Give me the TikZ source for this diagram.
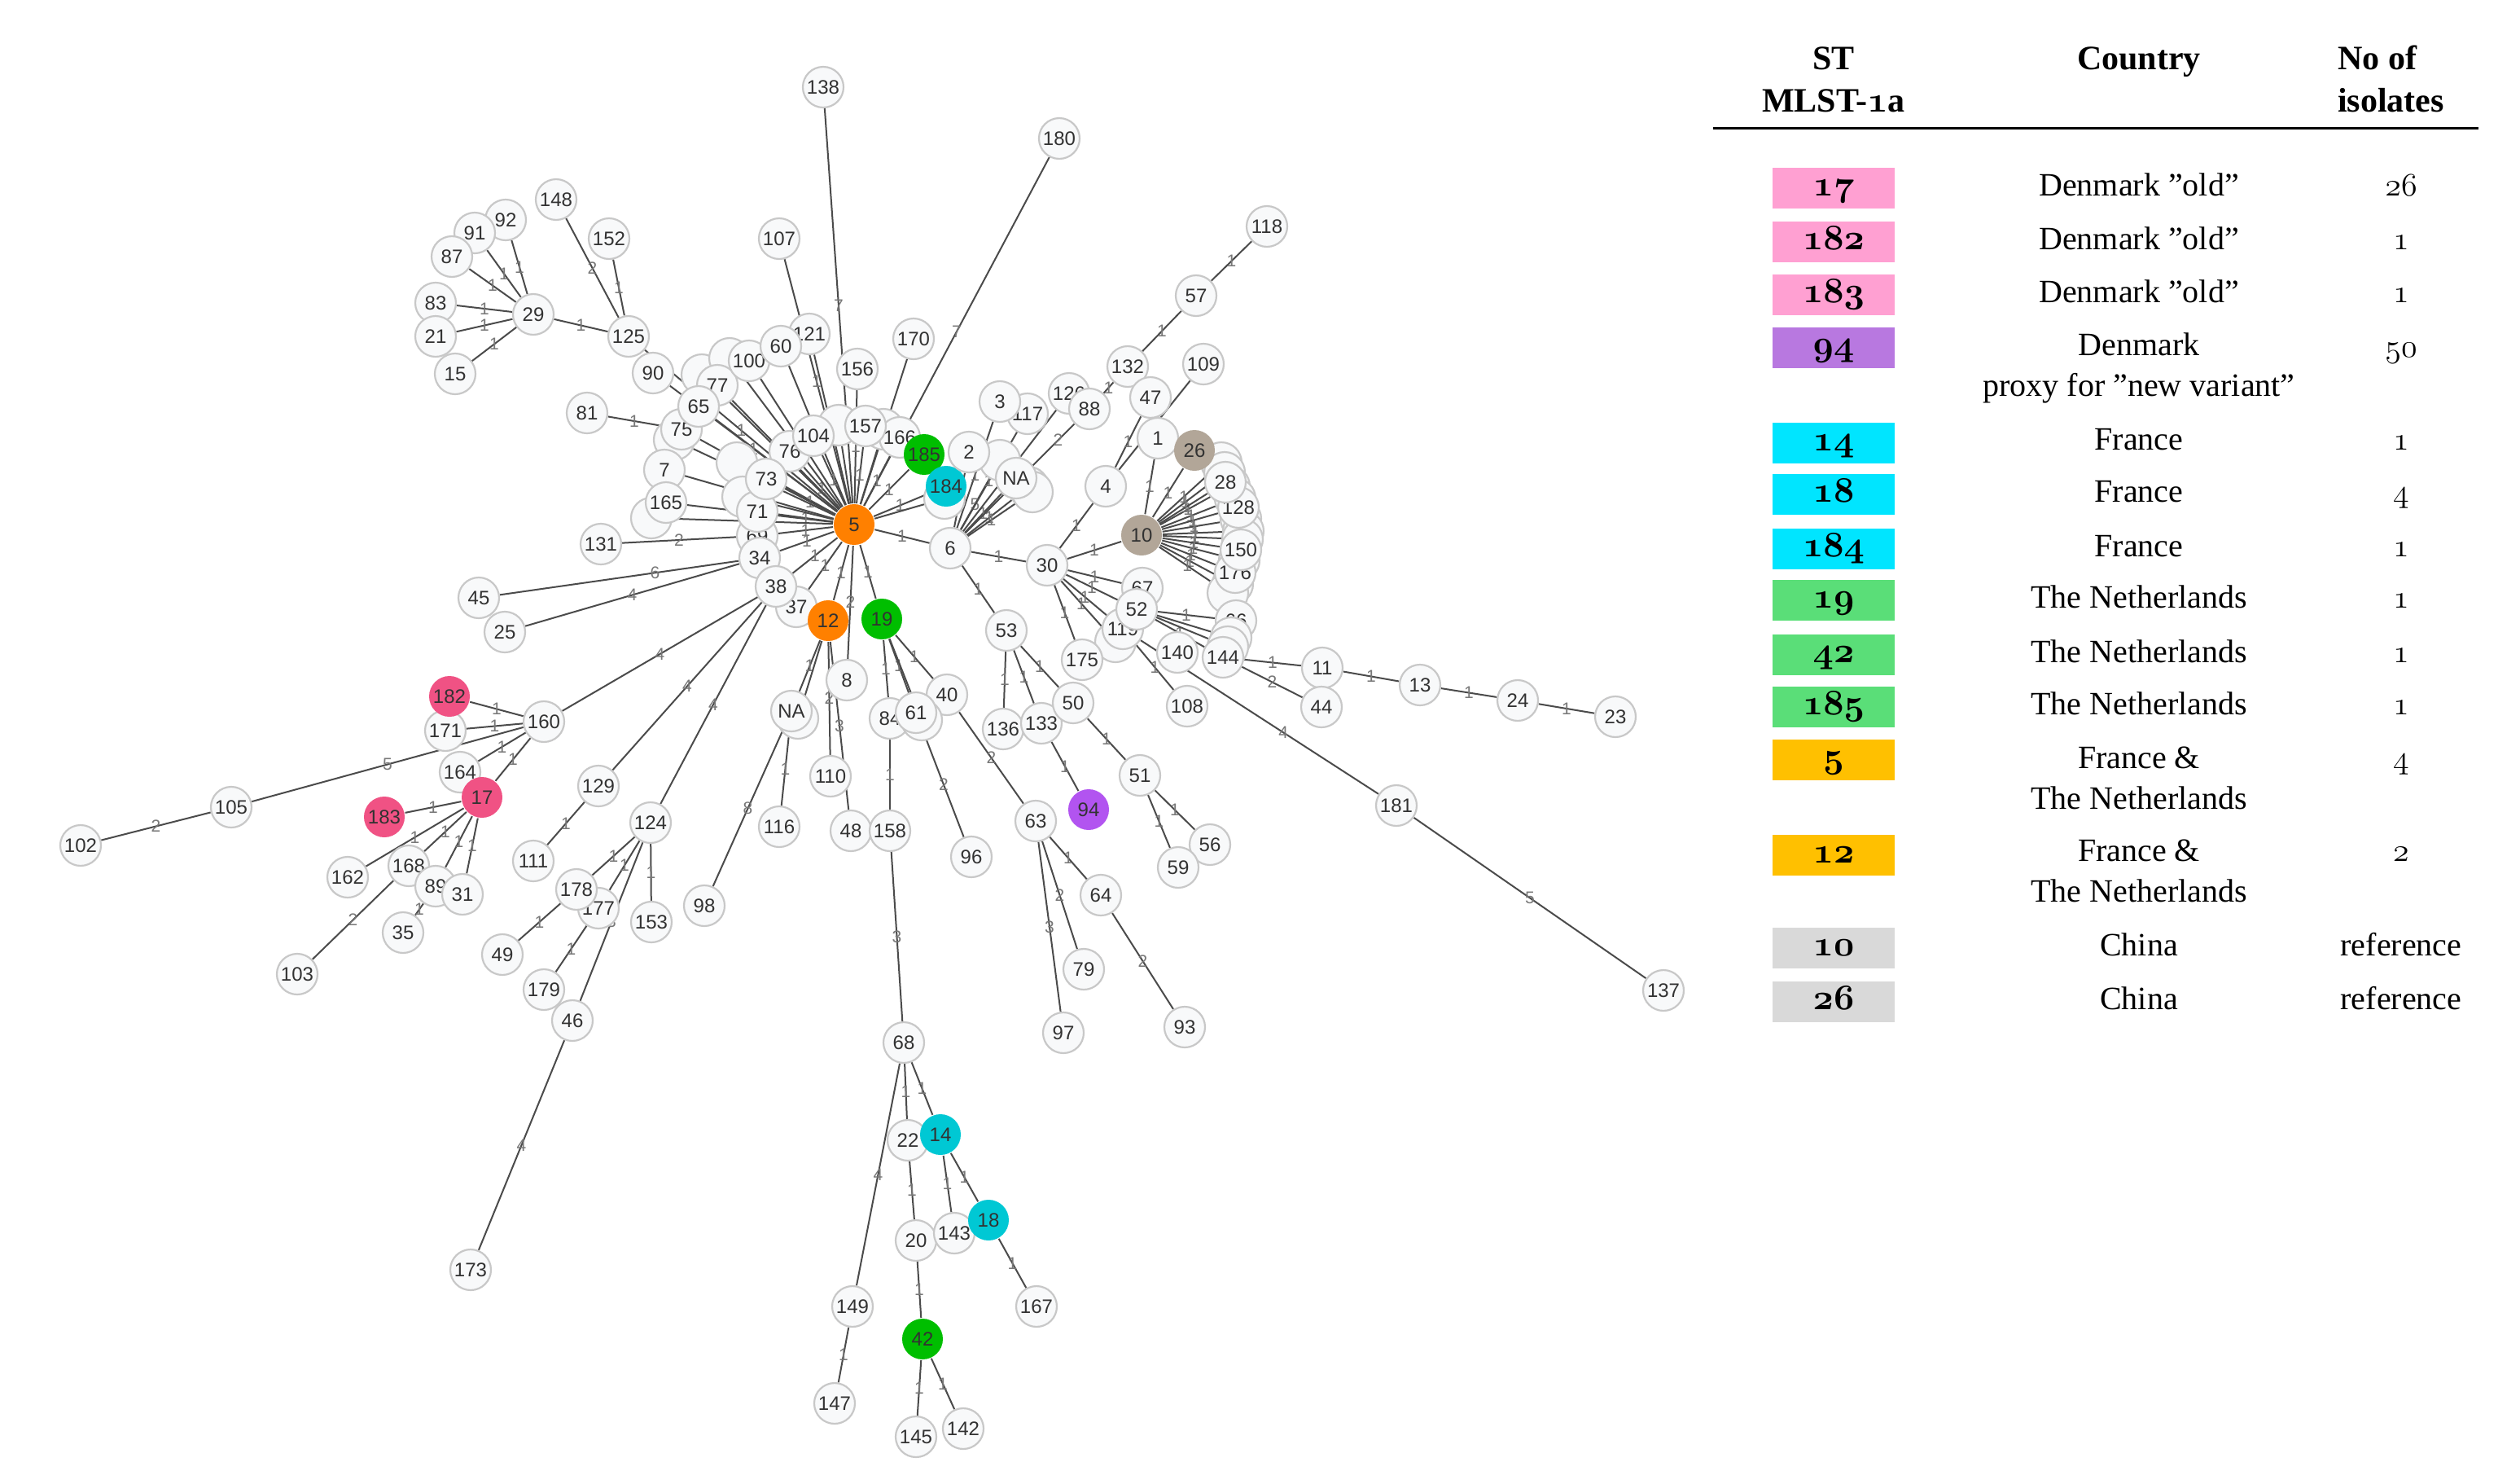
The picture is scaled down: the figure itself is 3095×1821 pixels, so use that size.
\documentclass[tikz,border=0pt]{standalone}
\usepackage{fontspec}
\setmainfont{Liberation Serif}
\newfontfamily\netfont{Liberation Sans}
\font\osf=cmmi12 at 40pt
\font\osfb=cmmib10 at 44pt
\newcommand\nfont{\netfont\fontsize{24}{27}\selectfont}
\newcommand\lbfont{\netfont\fontsize{21}{23}\selectfont}
\definecolor{ndline}{RGB}{200,200,200}
\definecolor{ndfill}{RGB}{248,249,250}
\definecolor{ndtext}{RGB}{50,50,50}
\definecolor{edgecol}{RGB}{75,75,75}
\definecolor{labcol}{RGB}{120,120,120}
\definecolor{corange}{RGB}{255,128,0}
\definecolor{cgreen}{RGB}{0,190,0}
\definecolor{ccyan}{RGB}{0,200,212}
\definecolor{cpink}{RGB}{240,82,132}
\definecolor{cpurple}{RGB}{178,84,240}
\definecolor{ctaupe}{RGB}{178,166,152}
\definecolor{lpink}{RGB}{255,160,210}
\definecolor{lpurple}{RGB}{184,120,224}
\definecolor{lcyan}{RGB}{0,229,255}
\definecolor{lgreen}{RGB}{90,222,120}
\definecolor{lamber}{RGB}{255,192,0}
\definecolor{lgray}{RGB}{217,217,217}
\pgfdeclarelayer{bg}
\pgfsetlayers{bg,main}
\tikzset{
  nd/.style={circle, draw=ndline, line width=2.2pt, fill=ndfill, minimum size=50pt, inner sep=0pt, font=\nfont, text=ndtext},
  cn/.style={nd, draw=none, fill=#1},
  ed/.style={draw=edgecol, line width=2pt},
  el/.style={font=\lbfont, text=labcol, inner sep=0pt},
  lbox/.style={rectangle, minimum width=150pt, minimum height=50pt, inner sep=0pt, font=\osfb, text height=24pt, text depth=6pt},
  lhead/.style={font=\bfseries\fontsize{42}{48}\selectfont, inner sep=0pt},
  ltxt/.style={font=\fontsize{40}{46}\selectfont, inner sep=0pt},
}
\newcommand\edg[4][0.5]{\draw[ed] (#2) -- node[el,pos=#1]{#4} (#3);}
\begin{document}
\begin{tikzpicture}[x=1pt,y=-1pt]
\useasboundingbox (0,0) rectangle (3095,1821);
% ---------- top-left ----------
\node[nd] (n148) at (683,245) {148};
\node[nd] (n152) at (748,293) {152};
\node[nd] (n92) at (621,270) {92};
\node[nd] (n91) at (583,286) {91};
\node[nd] (n87) at (555,315) {87};
\node[nd] (n83) at (535,372) {83};
\node[nd] (n21) at (535,413) {21};
\node[nd] (n15) at (559,459) {15};
\node[nd] (n29) at (655,386) {29};
\node[nd] (n125) at (772,413) {125};
\node[nd] (n90) at (802,458) {90};
\node[nd] (n81) at (721,507) {81};
\node[nd] (n107) at (957,293) {107};
\node[nd] (n138) at (1011,107) {138};
\node[nd] (n180) at (1301,170) {180};
% ---------- central cluster ----------
\node[nd] (hC) at (862,460) {};
\node[nd] (hD) at (896,440) {};
\node[nd] (hG) at (828,540) {};
\node[nd] (hH) at (800,636) {};
\node[nd] (hA) at (1030,522) {};
\node[nd] (hB) at (1085,527) {};
\node[nd] (hE) at (905,568) {};
\node[nd] (hF) at (912,610) {};
\node[nd] (n121) at (994,410) {121};
\node[nd] (n75) at (837,527) {75};
\node[nd] (n77) at (881,473) {77};
\node[nd] (n100) at (920,443) {100};
\node[nd] (n60) at (959,425) {60};
\node[nd] (n65) at (858,499) {65};
\node[nd] (n156) at (1053,453) {156};
\node[nd] (n170) at (1122,416) {170};
\node[nd] (n76) at (970,554) {76};
\node[nd] (n104) at (999,535) {104};
\node[nd] (n166) at (1105,537) {166};
\node[nd] (n157) at (1063,523) {157};
\node[cn=cgreen] (n185) at (1135,558) {185};
\node[nd] (hI) at (1160,612) {};
\node[cn=ccyan] (n184) at (1162,597) {184};
\node[nd] (n7) at (816,577) {7};
\node[nd] (n165) at (818,617) {165};
\node[nd] (n69) at (930,658) {69};
\node[nd] (n71) at (930,628) {71};
\node[nd] (n73) at (941,588) {73};
\node[nd] (n34) at (933,685) {34};
\node[nd] (n131) at (738,668) {131};
\node[nd] (n45) at (588,734) {45};
\node[nd] (n25) at (620,776) {25};
\node[nd] (n37) at (978,745) {37};
\node[nd] (n38) at (953,720) {38};
\node[cn=corange] (n12) at (1017,762) {12};
\node[cn=cgreen] (n19) at (1083,760) {19};
\node[cn=corange] (n5) at (1049,644) {5};
\node[nd] (n8) at (1040,835) {8};
\node[nd] (hM) at (980,882) {};
\node[nd] (nNAb) at (972,873) {NA};
\node[nd] (n110) at (1020,953) {110};
\node[nd] (n116) at (957,1015) {116};
\node[nd] (n48) at (1045,1020) {48};
\node[nd] (n86) at (1093,882) {84};
\node[nd] (n40) at (1163,853) {40};
\node[nd] (hN) at (1132,884) {};
\node[nd] (n61) at (1125,875) {61};
\node[nd] (n158) at (1093,1020) {158};
\node[nd] (n96) at (1193,1052) {96};
\node[nd] (n98) at (865,1112) {98};
% ---------- right upper ----------
\node[nd] (n117) at (1262,508) {117};
\node[nd] (n3) at (1228,493) {3};
\node[nd] (hJ) at (1228,565) {};
\node[nd] (n2) at (1190,555) {2};
\node[nd] (n12x) at (1313,483) {126};
\node[nd] (n88) at (1338,502) {88};
\node[nd] (n132) at (1385,450) {132};
\node[nd] (n57) at (1469,363) {57};
\node[nd] (n118) at (1556,278) {118};
\node[nd] (n109) at (1478,447) {109};
\node[nd] (n47) at (1413,488) {47};
\node[nd] (n1) at (1422,538) {1};
\node[nd] (n4) at (1358,597) {4};
\node[nd] (hK) at (1263,598) {};
\node[nd] (hL) at (1268,604) {};
\node[nd] (nNAt) at (1248,587) {NA};
\node[nd] (n6) at (1167,673) {6};
\node[nd] (n30) at (1286,694) {30};
\foreach \i/\x/\y in {1/1500/568,2/1504/580,3/1510/597,4/1517/612,5/1524/637,6/1527/652,7/1526/662,8/1522/688,9/1514/717,10/1508/728}
  \node[nd] (s\i) at (\x,\y) {};
\node[nd] (n176) at (1517,703) {176};
\node[nd] (n150) at (1524,675) {150};
\node[nd] (n128) at (1521,623) {128};
\node[nd] (n28) at (1505,592) {28};
\node[cn=ctaupe] (n26) at (1467,553) {26};
\node[cn=ctaupe] (n10) at (1402,657) {10};
\node[nd] (n53) at (1236,774) {53};
\node[nd] (hO) at (1370,788) {};
\node[nd] (n119) at (1379,772) {119};
\node[nd] (n97x) at (1403,722) {67};
\node[nd] (n52) at (1396,748) {52};
\node[nd] (n66) at (1518,762) {66};
\node[nd] (hP) at (1512,783) {};
\node[nd] (hQ) at (1508,794) {};
\node[nd] (n140) at (1446,801) {140};
\node[nd] (n144) at (1502,807) {144};
\node[nd] (n175) at (1329,810) {175};
\node[nd] (n108) at (1458,867) {108};
\node[nd] (n11) at (1624,820) {11};
\node[nd] (n44) at (1623,868) {44};
\node[nd] (n13) at (1744,841) {13};
\node[nd] (n24) at (1864,860) {24};
\node[nd] (n23) at (1984,880) {23};
\node[nd] (n181) at (1715,989) {181};
\node[nd] (n137) at (2043,1216) {137};
\node[nd] (n136) at (1232,895) {136};
\node[nd] (n133) at (1279,888) {133};
\node[nd] (n50) at (1318,863) {50};
\node[nd] (n51) at (1400,952) {51};
\node[nd] (n56) at (1486,1037) {56};
\node[nd] (n59) at (1447,1065) {59};
\node[cn=cpurple] (n94) at (1337,994) {94};
\node[nd] (n63) at (1272,1008) {63};
\node[nd] (n64) at (1352,1099) {64};
\node[nd] (n79) at (1331,1190) {79};
\node[nd] (n97) at (1306,1268) {97};
\node[nd] (n93) at (1455,1261) {93};
% ---------- bottom ----------
\node[nd] (n68) at (1110,1280) {68};
\node[nd] (n22) at (1115,1400) {22};
\node[cn=ccyan] (n14) at (1155,1393) {14};
\node[nd] (n20) at (1125,1523) {20};
\node[nd] (n143) at (1172,1514) {143};
\node[cn=ccyan] (n18) at (1214,1498) {18};
\node[nd] (n149) at (1047,1604) {149};
\node[nd] (n167) at (1273,1604) {167};
\node[cn=cgreen] (n42) at (1133,1644) {42};
\node[nd] (n147) at (1025,1723) {147};
\node[nd] (n145) at (1125,1764) {145};
\node[nd] (n142) at (1183,1754) {142};
% ---------- left ----------
\node[nd] (n171) at (547,897) {171};
\node[cn=cpink] (n182) at (552,855) {182};
\node[nd] (n160) at (668,886) {160};
\node[nd] (n164) at (565,948) {164};
\node[cn=cpink] (n17) at (592,979) {17};
\node[cn=cpink] (n183) at (472,1003) {183};
\node[nd] (n162) at (427,1077) {162};
\node[nd] (n168) at (502,1063) {168};
\node[nd] (n89) at (535,1088) {89};
\node[nd] (n31) at (568,1098) {31};
\node[nd] (n35) at (495,1145) {35};
\node[nd] (n129) at (735,965) {129};
\node[nd] (n111) at (655,1057) {111};
\node[nd] (n124) at (799,1010) {124};
\node[nd] (n177) at (735,1115) {177};
\node[nd] (n178) at (708,1092) {178};
\node[nd] (n153) at (800,1132) {153};
\node[nd] (n49) at (617,1172) {49};
\node[nd] (n179) at (668,1215) {179};
\node[nd] (n46) at (703,1253) {46};
\node[nd] (n173) at (578,1559) {173};
\node[nd] (n103) at (365,1196) {103};
\node[nd] (n105) at (284,991) {105};
\node[nd] (n102) at (99,1038) {102};
% ---------- edges ----------
\begin{pgfonlayer}{bg}
\fill[white] (0,0) rectangle (3095,1821);
% hub 5
\edg{n5}{n138}{7}
\edg{n5}{n180}{7}
\edg{n5}{n107}{1}
\edg{n5}{n121}{1}
\edg{n5}{n60}{1}
\edg{n5}{n100}{1}
\edg{n5}{n77}{1}
\edg{n5}{n65}{1}
\edg{n5}{n90}{1}
\edg{n5}{n125}{1}
\edg{n5}{n75}{1}
\edg{n5}{n7}{1}
\edg{n5}{n165}{1}
\edg{n5}{n73}{1}
\edg{n5}{n76}{1}
\edg{n5}{n104}{1}
\edg{n5}{n157}{1}
\edg{n5}{n156}{1}
\edg{n5}{n166}{1}
\edg{n5}{n170}{1}
\edg{n5}{n71}{1}
\edg{n5}{n69}{1}
\edg{n5}{n34}{1}
\edg{n5}{n38}{1}
\edg{n5}{n37}{1}
\edg{n5}{n12}{1}
\edg{n5}{n8}{2}
\edg{n5}{n19}{1}
\edg{n5}{n185}{1}
\edg{n5}{n184}{1}
\edg{n5}{hI}{}
\edg{n5}{n6}{1}
\foreach \h in {hA,hB,hC,hD,hE,hF,hG,hH} {\edg{n5}{\h}{}}
% top-left
\edg{n29}{n92}{1}
\edg{n29}{n91}{1}
\edg{n29}{n87}{1}
\edg{n29}{n83}{1}
\edg{n29}{n21}{1}
\edg{n29}{n15}{1}
\edg{n29}{n125}{1}
\edg{n125}{n148}{2}
\edg{n125}{n152}{1}
\edg{n81}{n75}{1}
% left
\edg{n131}{n69}{2}
\edg[0.65]{n45}{n34}{6}
\edg{n25}{n34}{4}
\edg{n38}{n160}{4}
\edg{n38}{n129}{4}
\edg{n38}{n124}{4}
\edg{n105}{n160}{5}
\edg{n102}{n105}{2}
\edg{n160}{n182}{1}
\edg{n160}{n171}{1}
\edg{n160}{n164}{1}
\edg{n160}{n17}{1}
\edg{n17}{n183}{1}
\edg{n17}{n162}{1}
\edg{n17}{n168}{1}
\edg{n17}{n89}{1}
\edg{n17}{n31}{1}
\edg{n168}{n103}{2}
\edg{n89}{n35}{1}
\edg{n129}{n111}{1}
\edg{n124}{n178}{1}
\edg{n124}{n177}{1}
\edg{n124}{n153}{1}
\edg{n124}{n46}{3}
\edg{n178}{n49}{1}
\edg{n177}{n179}{1}
\edg{n46}{n173}{4}
% below 5
\edg{n12}{nNAb}{1}
\edg{n12}{hM}{}
\edg{nNAb}{n98}{8}
\edg{nNAb}{n116}{1}
\edg{n12}{n110}{2}
\edg{n12}{n48}{3}
\edg{n19}{n86}{1}
\edg{n19}{n61}{1}
\edg{n19}{hN}{}
\edg{n19}{n40}{1}
\edg{n86}{n158}{1}
\edg{n158}{n68}{3}
\edg{n61}{n96}{2}
\edg{n40}{n63}{2}
% right
\edg{n6}{n30}{1}
\edg{n6}{n53}{1}
\edg{n6}{n2}{2}
\edg{n6}{hJ}{5}
\edg{n6}{n3}{1}
\edg{n6}{n117}{1}
\edg{n6}{nNAt}{1}
\edg{n6}{hK}{1}
\edg{n6}{hL}{1}
\edg{n6}{n12x}{1}
\edg[0.85]{n6}{n88}{2}
\edg{n88}{n132}{1}
\edg{n132}{n57}{1}
\edg{n57}{n118}{1}
\edg{n30}{n4}{1}
\edg{n4}{n47}{1}
\edg{n4}{n109}{1}
\edg{n10}{n1}{1}
\edg{n10}{n26}{1}
\edg{n30}{n10}{1}
\edg{n30}{n175}{1}
\foreach \i in {1,...,10} {\edg[0.55]{n10}{s\i}{1}}
\edg[0.55]{n10}{n28}{1}
\edg[0.55]{n10}{n128}{1}
\edg[0.55]{n10}{n150}{1}
\edg[0.55]{n10}{n176}{1}
\edg{n30}{n97x}{1}
\edg{n30}{n52}{1}
\edg{n30}{n119}{1}
\edg{n30}{hO}{1}
\edg{n52}{n66}{1}
\edg{n52}{n144}{1}
\edg{n52}{hP}{}
\edg{n52}{hQ}{}
\edg{n119}{n108}{1}
\edg[0.6]{n119}{n181}{4}
\edg{n181}{n137}{5}
\edg{n144}{n11}{1}
\edg{n144}{n44}{2}
\edg{n11}{n13}{1}
\edg{n13}{n24}{1}
\edg{n24}{n23}{1}
\edg{n53}{n136}{1}
\edg{n53}{n133}{1}
\edg{n53}{n50}{1}
\edg{n133}{n94}{1}
\edg{n50}{n51}{1}
\edg{n51}{n56}{1}
\edg{n51}{n59}{1}
\edg{n63}{n64}{1}
\edg{n63}{n79}{2}
\edg{n63}{n97}{3}
\edg{n64}{n93}{2}
% bottom
\edg{n68}{n22}{1}
\edg{n68}{n14}{1}
\edg{n68}{n149}{4}
\edg{n22}{n20}{1}
\edg{n14}{n143}{1}
\edg{n14}{n18}{1}
\edg{n18}{n167}{1}
\edg{n20}{n42}{1}
\edg{n42}{n145}{1}
\edg{n42}{n142}{1}
\edg{n149}{n147}{1}
\end{pgfonlayer}
% ---------- legend ----------
\node[lhead, anchor=base] (hST) at (2252,85) {ST};
\node[lhead, anchor=base] (hML) at (2252,137) {MLST-{\osfb 1}a};
\node[lhead, anchor=base] (hCo) at (2627,85) {Country};
\node[lhead, anchor=base west] (hNo) at (2871,85) {No of};
\node[lhead, anchor=base west] (hIs) at (2871,137) {isolates};
\coordinate (rl) at (2104,157);
\coordinate (rr) at (3044,157);
\draw[line width=3pt] (rl) -- (rr);
% rows
\node[lbox, fill=lpink] (b17) at (2252,231) {17};
\node[ltxt, anchor=base] (c17) at (2627,240) {Denmark ”old”};
\node[ltxt, anchor=base, font=\osf] (k17) at (2949,240) {26};
\node[lbox, fill=lpink] (b182) at (2252,297) {182};
\node[ltxt, anchor=base] (c182) at (2627,306) {Denmark ”old”};
\node[ltxt, anchor=base, font=\osf] (k182) at (2949,306) {1};
\node[lbox, fill=lpink] (b183) at (2252,362) {183};
\node[ltxt, anchor=base] (c183) at (2627,371) {Denmark ”old”};
\node[ltxt, anchor=base, font=\osf] (k183) at (2949,371) {1};
\node[lbox, fill=lpurple] (b94) at (2252,427) {94};
\node[ltxt, anchor=base] (c94a) at (2627,436) {Denmark};
\node[ltxt, anchor=base] (c94b) at (2627,486) {proxy for ”new variant”};
\node[ltxt, anchor=base, font=\osf] (k94) at (2949,438) {50};
\node[lbox, fill=lcyan] (b14) at (2252,544) {14};
\node[ltxt, anchor=base] (c14) at (2627,552) {France};
\node[ltxt, anchor=base, font=\osf] (k14) at (2949,552) {1};
\node[lbox, fill=lcyan] (b18) at (2252,607) {18};
\node[ltxt, anchor=base] (c18) at (2627,616) {France};
\node[ltxt, anchor=base, font=\osf] (k18) at (2949,616) {4};
\node[lbox, fill=lcyan] (b184) at (2252,674) {184};
\node[ltxt, anchor=base] (c184) at (2627,683) {France};
\node[ltxt, anchor=base, font=\osf] (k184) at (2949,683) {1};
\node[lbox, fill=lgreen] (b19) at (2252,737) {19};
\node[ltxt, anchor=base] (c19) at (2627,746) {The Netherlands};
\node[ltxt, anchor=base, font=\osf] (k19) at (2949,746) {1};
\node[lbox, fill=lgreen] (b42) at (2252,804) {42};
\node[ltxt, anchor=base] (c42) at (2627,813) {The Netherlands};
\node[ltxt, anchor=base, font=\osf] (k42) at (2949,813) {1};
\node[lbox, fill=lgreen] (b185) at (2252,868) {185};
\node[ltxt, anchor=base] (c185) at (2627,877) {The Netherlands};
\node[ltxt, anchor=base, font=\osf] (k185) at (2949,877) {1};
\node[lbox, fill=lamber] (b5) at (2252,933) {5};
\node[ltxt, anchor=base] (c5a) at (2627,943) {France \&};
\node[ltxt, anchor=base] (c5b) at (2627,993) {The Netherlands};
\node[ltxt, anchor=base, font=\osf] (k5) at (2949,943) {4};
\node[lbox, fill=lamber] (b12) at (2252,1050) {12};
\node[ltxt, anchor=base] (c12a) at (2627,1057) {France \&};
\node[ltxt, anchor=base] (c12b) at (2627,1107) {The Netherlands};
\node[ltxt, anchor=base, font=\osf] (k12) at (2949,1057) {2};
\node[lbox, fill=lgray] (b10) at (2252,1164) {10};
\node[ltxt, anchor=base] (c10) at (2627,1173) {China};
\node[ltxt, anchor=base] (k10) at (2949,1173) {reference};
\node[lbox, fill=lgray] (b26) at (2252,1230) {26};
\node[ltxt, anchor=base] (c26) at (2627,1239) {China};
\node[ltxt, anchor=base] (k26) at (2949,1239) {reference};
\end{tikzpicture}
\end{document}
